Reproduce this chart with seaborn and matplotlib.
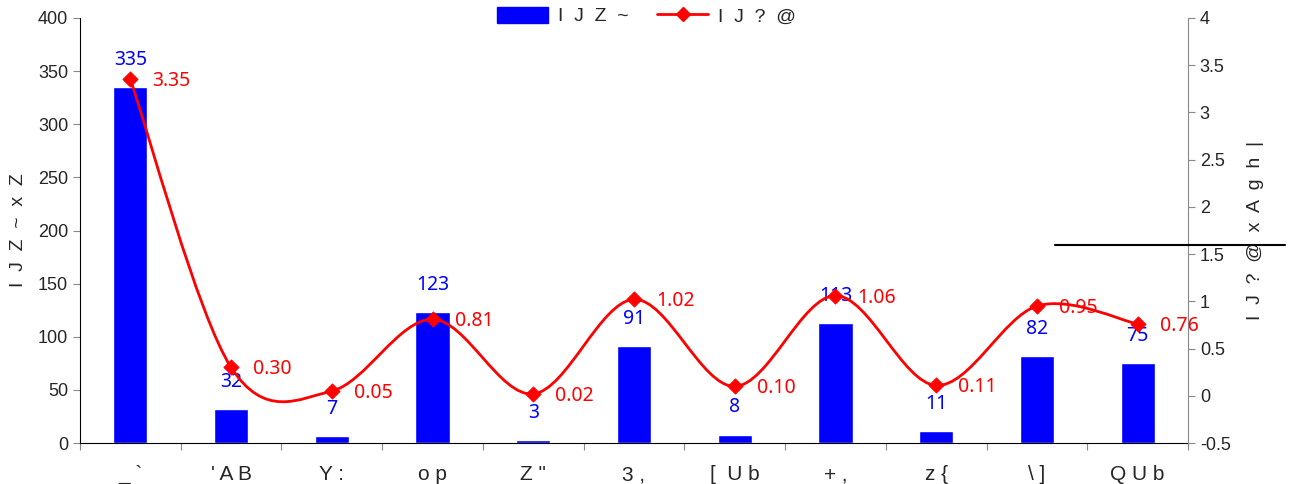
import numpy as np
import pandas as pd
import matplotlib
matplotlib.use("Agg")
import matplotlib.pyplot as plt
import seaborn as sns
from matplotlib.path import Path
from matplotlib.patches import PathPatch, Patch
from matplotlib.lines import Line2D

# --- data ---
categories = ["_ `", "' A B", "Y :", "o p", "Z \"", "3 ,", "[  U b", "+ ,", "z {", "\\ ]", "Q U b"]
counts = [335, 32, 7, 123, 3, 91, 8, 113, 11, 82, 75]
ratios = [3.35, 0.30, 0.05, 0.81, 0.02, 1.02, 0.10, 1.06, 0.11, 0.95, 0.76]
bar_name = "I  J  Z  ~"
line_name = "I  J  ?  @"
left_label = "I  J  Z  ~  x  Z"
right_label = "I  J  ?  @  x  A  g  h  |"

df = pd.DataFrame({"cat": categories, "count": counts, "ratio": ratios})

sns.set_style("white")
plt.rcParams["font.family"] = ["Liberation Sans", "DejaVu Sans"]

fig = plt.figure(figsize=(12.93, 4.84), dpi=100)
ax = fig.add_axes([80 / 1293, 41 / 484, 1108 / 1293, 425 / 484])
ax2 = ax.twinx()

sns.barplot(data=df, x="cat", y="count", color="#0000ff", width=0.34,
            saturation=1, ax=ax, zorder=2)
ax.set_xlim(-0.5, len(categories) - 0.5)
ax.set_ylim(0, 400)
ax.set_yticks(range(0, 401, 50))
ax.set_xlabel("")
ax.set_ylabel(left_label, fontsize=14, labelpad=8)

# category ticks: marks on the boundaries, labels in the middle
ax.set_xticks(np.arange(-0.5, len(categories), 1.0))
ax.set_xticklabels([])
ax.set_xticks(np.arange(len(categories)), minor=True)
ax.set_xticklabels(categories, minor=True, fontsize=15)
ax.tick_params(axis="x", which="major", direction="out", length=5, color="#888888", bottom=True)
ax.tick_params(axis="x", which="minor", length=0, pad=16)
ax.tick_params(axis="y", direction="out", length=5, color="#888888", left=True, labelsize=13)

for sp in ["top", "right"]:
    ax.spines[sp].set_visible(False)
ax.spines["left"].set_color("black")
ax.spines["bottom"].set_color("black")

# bar value labels
for i, v in enumerate(counts):
    ax.annotate(str(v), (i, v), xytext=(0, 27), textcoords="offset pixels",
                ha="center", va="center", color="#0000ff", fontsize=14, family="Noto Sans")

# smooth line (Catmull-Rom as cubic bezier, in data coords)
ax2.set_ylim(-0.5, 4)
ax2.set_yticks(np.arange(-0.5, 4.01, 0.5))
ax2.set_yticklabels(["-0.5", "0", "0.5", "1", "1.5", "2", "2.5", "3", "3.5", "4"])
pts = np.column_stack([np.arange(len(ratios)), ratios]).astype(float)
ext = np.vstack([pts[0], pts, pts[-1]])
verts = [tuple(pts[0])]
codes = [Path.MOVETO]
for i in range(len(pts) - 1):
    p0, p1, p2, p3 = ext[i], ext[i + 1], ext[i + 2], ext[i + 3]
    c1 = p1 + (p2 - p0) / 6
    c2 = p2 - (p3 - p1) / 6
    verts += [tuple(c1), tuple(c2), tuple(p2)]
    codes += [Path.CURVE4] * 3
ax2.add_patch(PathPatch(Path(verts, codes), fill=False, edgecolor="#ff0000", lw=2, zorder=3))
sns.scatterplot(x=np.arange(len(ratios)), y=ratios, marker="D", color="#ff0000",
                s=60, edgecolor="#ff0000", ax=ax2, zorder=4, legend=False)
for i, r in enumerate(ratios):
    ax2.annotate(f"{r:.2f}", (i, r), xytext=(22, -2), textcoords="offset pixels",
                 ha="left", va="center", color="#ff0000", fontsize=14, family="Noto Sans")

ax2.set_ylabel(right_label, fontsize=14, rotation=90, labelpad=12)
ax2.tick_params(axis="y", direction="out", length=5, color="#888888", right=True, labelsize=13)
for sp in ["top", "left", "bottom"]:
    ax2.spines[sp].set_visible(False)
ax2.spines["right"].set_color("#888888")

handles = [Patch(facecolor="#0000ff", edgecolor="#0000ff"),
           Line2D([], [], color="#ff0000", lw=2, marker="D", markersize=7)]
fig.legend(handles, [bar_name, line_name], loc="center", bbox_to_anchor=(0.5, 1 - 16 / 484),
           ncol=2, frameon=False, fontsize=14, handlelength=2.6, handleheight=0.9,
           columnspacing=1.5, handletextpad=0.5)

# stray horizontal rule seen at the right side of the reference
fig.add_artist(Line2D([1055 / 1293, 1285 / 1293], [1 - 245 / 484, 1 - 245 / 484],
                      color="black", lw=1.5))

fig.savefig("out.png", dpi=100)
